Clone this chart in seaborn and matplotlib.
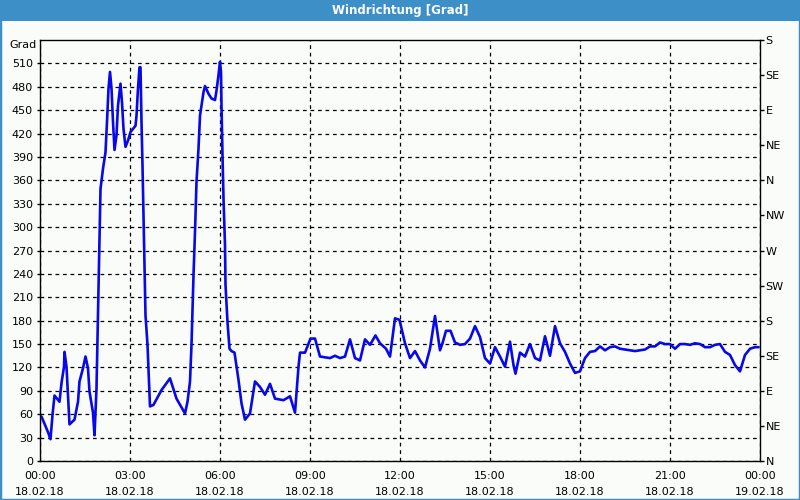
import matplotlib
matplotlib.use("Agg")
import matplotlib.pyplot as plt
import seaborn as sns
import pandas as pd
from matplotlib.patches import Rectangle
from matplotlib.ticker import MultipleLocator

# --- data: minutes since 18.02.18 00:00 and wind direction in degrees ---
minutes = [3, 16, 21, 25, 29, 39, 43, 48, 49, 53, 56, 59, 69, 76, 79, 86, 91, 96, 99, 106,
           109, 113, 115, 117, 119, 121, 126, 131, 134, 137, 140, 143, 146, 149, 153, 156, 161, 164, 167, 171,
           176, 181, 191, 193, 196, 199, 201, 203, 205, 207, 209, 211, 215, 217, 220, 227, 243, 260, 273, 290,
           295, 300, 303, 307, 310, 313, 317, 320, 327, 330, 337, 343, 350, 353, 357, 360, 362, 363, 365, 367,
           370, 371, 375, 379, 383, 389, 397, 403, 410, 420, 430, 440, 450, 460, 470, 487, 500, 510, 517, 520,
           530, 541, 550, 560, 580, 590, 600, 610, 620, 630, 640, 650, 660, 671, 680, 692, 700, 710, 719, 730,
           740, 750, 760, 770, 780, 790, 800, 805, 812, 821, 830, 840, 850, 860, 870, 880, 890, 900, 910, 920,
           930, 940, 947, 951, 960, 970, 980, 990, 1000, 1010, 1020, 1030, 1040, 1050, 1060, 1070, 1080, 1090, 1100, 1110,
           1120, 1130, 1140, 1150, 1160, 1170, 1180, 1190, 1200, 1210, 1220, 1230, 1240, 1250, 1260, 1270, 1280, 1290, 1300, 1310,
           1320, 1330, 1340, 1350, 1360, 1370, 1380, 1390, 1400, 1410, 1420, 1430, 1437]
degrees = [57, 37, 28, 59, 84, 76, 100, 121, 140, 121, 85, 47, 53, 76, 102, 119, 134, 119, 89, 62,
           33, 93, 157, 221, 285, 349, 375, 396, 435, 478, 499, 478, 435, 399, 418, 456, 484, 460, 426, 403,
           411, 422, 430, 443, 478, 505, 505, 435, 379, 315, 251, 187, 149, 117, 70, 72, 91, 106, 80, 61,
           76, 102, 149, 238, 294, 358, 401, 443, 473, 481, 471, 465, 463, 475, 495, 512, 499, 456, 392, 337,
           277, 226, 178, 144, 141, 139, 104, 74, 53, 61, 102, 95, 85, 99, 80, 78, 83, 62, 121, 139,
           139, 157, 157, 134, 132, 135, 132, 134, 156, 132, 129, 156, 149, 161, 151, 144, 134, 183, 181, 151,
           132, 141, 129, 120, 144, 186, 142, 151, 167, 167, 152, 149, 150, 157, 173, 159, 132, 125, 146, 134,
           121, 153, 123, 112, 139, 134, 150, 132, 129, 160, 135, 173, 151, 140, 125, 113, 115, 132, 140, 141,
           147, 142, 146, 147, 144, 143, 142, 141, 142, 143, 147, 147, 152, 150, 150, 144, 150, 150, 149, 151,
           150, 146, 146, 149, 150, 140, 136, 123, 115, 136, 144, 146, 146]

x_tick_labels = ["00:00\n18.02.18", "03:00\n18.02.18", "06:00\n18.02.18", "09:00\n18.02.18",
                 "12:00\n18.02.18", "15:00\n18.02.18", "18:00\n18.02.18", "21:00\n18.02.18",
                 "00:00\n19.02.18"]
compass_labels = ["N", "NE", "E", "SE", "S", "SW", "W", "NW", "N", "NE", "E", "SE", "S"]
title = "Windrichtung [Grad]"
unit_label = "Grad"

df = pd.DataFrame({"minute": minutes, "deg": degrees})

sns.set_style("white")
plt.rcParams["font.family"] = ["DejaVu Sans"]
plt.rcParams["text.color"] = "black"
plt.rcParams["xtick.color"] = "black"
plt.rcParams["ytick.color"] = "black"
plt.rcParams["axes.labelcolor"] = "black"

BG = "#FAFCFA"
BAR = "#3D8FC7"

fig = plt.figure(figsize=(8, 5), dpi=100, facecolor=BG)
ax = fig.add_axes([40 / 800, 39 / 500, 720 / 800, 421 / 500], facecolor=BG)

sns.lineplot(data=df, x="minute", y="deg", ax=ax, color="#0808E8", linewidth=1.9)

ax.set_xlim(0, 1440)
ax.set_ylim(0, 540)
ax.set_xlabel("")
ax.set_ylabel("")

ax.set_xticks(range(0, 1441, 180))
ax.set_xticklabels(x_tick_labels, fontsize=8, linespacing=1.75)
ax.xaxis.set_minor_locator(MultipleLocator(60))
ax.set_yticks(range(0, 511, 30))
ax.set_yticklabels([str(v) for v in range(0, 511, 30)], fontsize=8)

ax.tick_params(axis="x", which="major", direction="out", length=4, width=1, color="black", pad=3)
ax.tick_params(axis="x", which="minor", direction="out", length=3, width=1, color="black")
ax.tick_params(axis="y", direction="out", length=2, width=1, color="black", pad=3)

ax.grid(True, which="major", axis="both", color="black", linestyle=(0, (3, 3)), linewidth=0.9)
ax.grid(False, which="minor")
for s in ax.spines.values():
    s.set_visible(True)
    s.set_color("black")
    s.set_linewidth(1)

ax2 = ax.twinx()
ax2.set_ylim(0, 540)
ax2.set_yticks(range(0, 541, 45))
ax2.set_yticklabels(compass_labels, fontsize=8)
ax2.tick_params(axis="y", direction="out", length=3, width=1, color="black", pad=1)
ax2.grid(False)
for s in ax2.spines.values():
    s.set_visible(False)

# title bar and window border
fig.patches.append(Rectangle((0, 1 - 21 / 500), 1, 21 / 500, transform=fig.transFigure,
                             facecolor=BAR, edgecolor="none", zorder=0))
fig.patches.append(Rectangle((0, 0), 1, 1, transform=fig.transFigure, fill=False,
                             edgecolor=BAR, linewidth=2.5, zorder=0))
fig.text(0.5, 1 - 10.5 / 500, title, ha="center", va="center", color="white",
         fontsize=8.5, fontweight="bold")
fig.text(37 / 800, 1 - 45 / 500, unit_label, ha="right", va="center", fontsize=8)

fig.savefig("out.png", dpi=100, facecolor=BG)
